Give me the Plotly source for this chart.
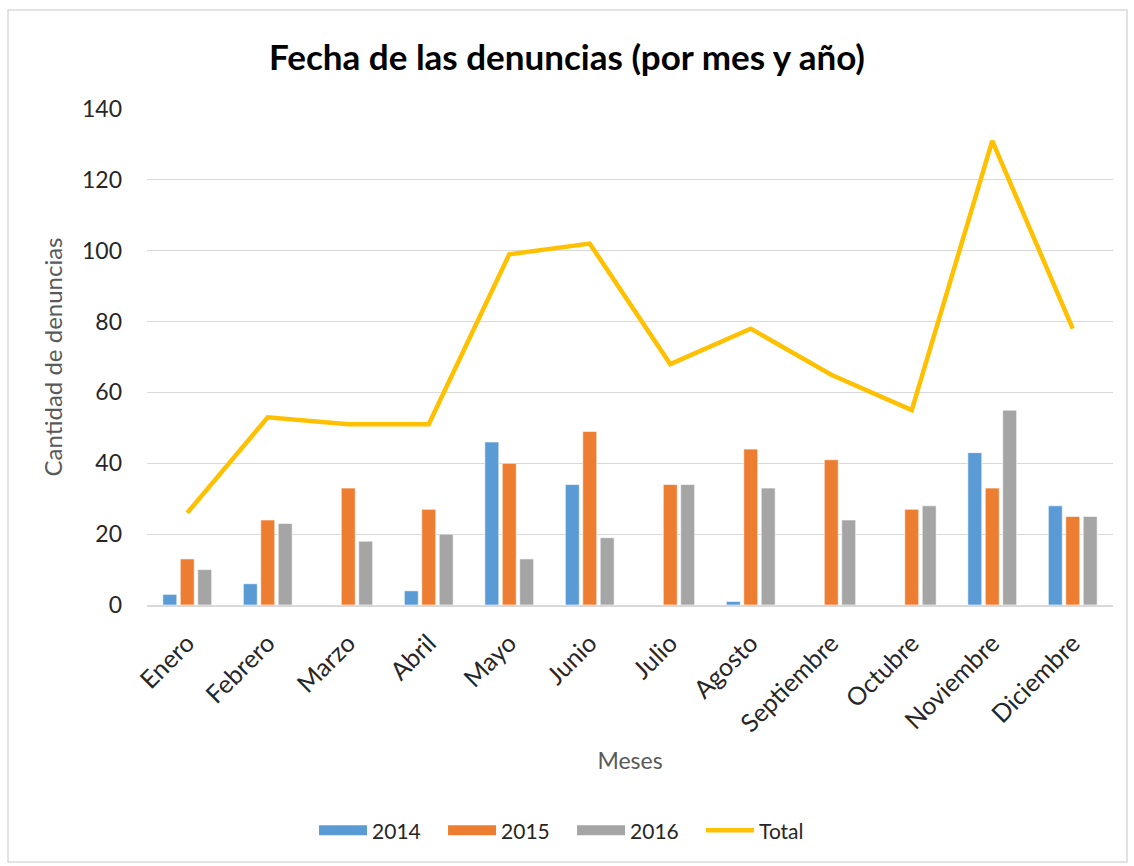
import plotly.graph_objects as go

meses = ["Enero", "Febrero", "Marzo", "Abril", "Mayo", "Junio", "Julio",
         "Agosto", "Septiembre", "Octubre", "Noviembre", "Diciembre"]
v2014 = [3, 6, 0, 4, 46, 34, 0, 1, 0, 0, 43, 28]
v2015 = [13, 24, 33, 27, 40, 49, 34, 44, 41, 27, 33, 25]
v2016 = [10, 23, 18, 20, 13, 19, 34, 33, 24, 28, 55, 25]
total = [26, 53, 51, 51, 99, 102, 68, 78, 65, 55, 131, 78]
y_ticks = [0, 20, 40, 60, 80, 100, 120, 140]

FONT = "Lato"
fig = go.Figure()
series = [("2014", v2014, "#5B9BD5"), ("2015", v2015, "#ED7D31"), ("2016", v2016, "#A5A5A5")]
for name, vals, col in series:
    fig.add_trace(go.Bar(x=meses, y=vals, name=name, marker_color=col, showlegend=False,
                         marker_line=dict(color="white", width=0.6)))
fig.add_trace(go.Scatter(x=meses, y=total, name="Total", mode="lines", showlegend=False,
                         line=dict(color="#FFC000", width=4.5)))
# legend entries (wide swatches like the original)
for name, vals, col in series:
    fig.add_trace(go.Scatter(x=[None], y=[None], name=name, mode="lines",
                             line=dict(color=col, width=15)))
fig.add_trace(go.Scatter(x=[None], y=[None], name="Total", mode="lines",
                         line=dict(color="#FFC000", width=4.5)))

fig.update_layout(
    width=1134, height=866,
    paper_bgcolor="white", plot_bgcolor="white",
    margin=dict(l=147, r=21, t=109, b=261),
    barmode="group", bargap=0.35, bargroupgap=0.2,
    font=dict(family=FONT, size=23, color="#262626"),
    title=dict(text="<b>Fecha de las denuncias (por mes y año)</b>",
               x=0.5, xanchor="center", y=0.933, yanchor="middle",
               font=dict(family=FONT, size=35, color="black")),
    legend=dict(orientation="h", x=0.44, xanchor="center", y=-0.455, yanchor="middle",
                font=dict(family=FONT, size=21, color="#262626"), traceorder="normal",
                itemwidth=48, entrywidth=66, entrywidthmode="pixels"),
)
fig.update_yaxes(range=[0, 140], tickvals=y_ticks, showgrid=True, gridcolor="#D9D9D9",
                 gridwidth=1, zeroline=False, showline=False, ticks="", ticklen=0,
                 ticklabelstandoff=24,
                 title=dict(text="Cantidad de denuncias", font=dict(color="#595959", size=24),
                            standoff=12),
                 tickfont=dict(size=23, color="#262626"))
fig.update_xaxes(tickangle=-45, showline=True, linecolor="#D9D9D9", linewidth=1.5,
                 ticks="", ticklabelstandoff=12,
                 title=dict(text="Meses", font=dict(color="#595959", size=23),
                            standoff=17),
                 tickfont=dict(size=25, color="#262626"))
fig.add_shape(type="rect", xref="paper", yref="paper", x0=-0.1439, x1=1.0145,
              y0=-0.518, y1=1.1996, line=dict(color="#D9D9D9", width=1.5),
              fillcolor="rgba(0,0,0,0)", layer="below")
fig.write_html("out.html")
